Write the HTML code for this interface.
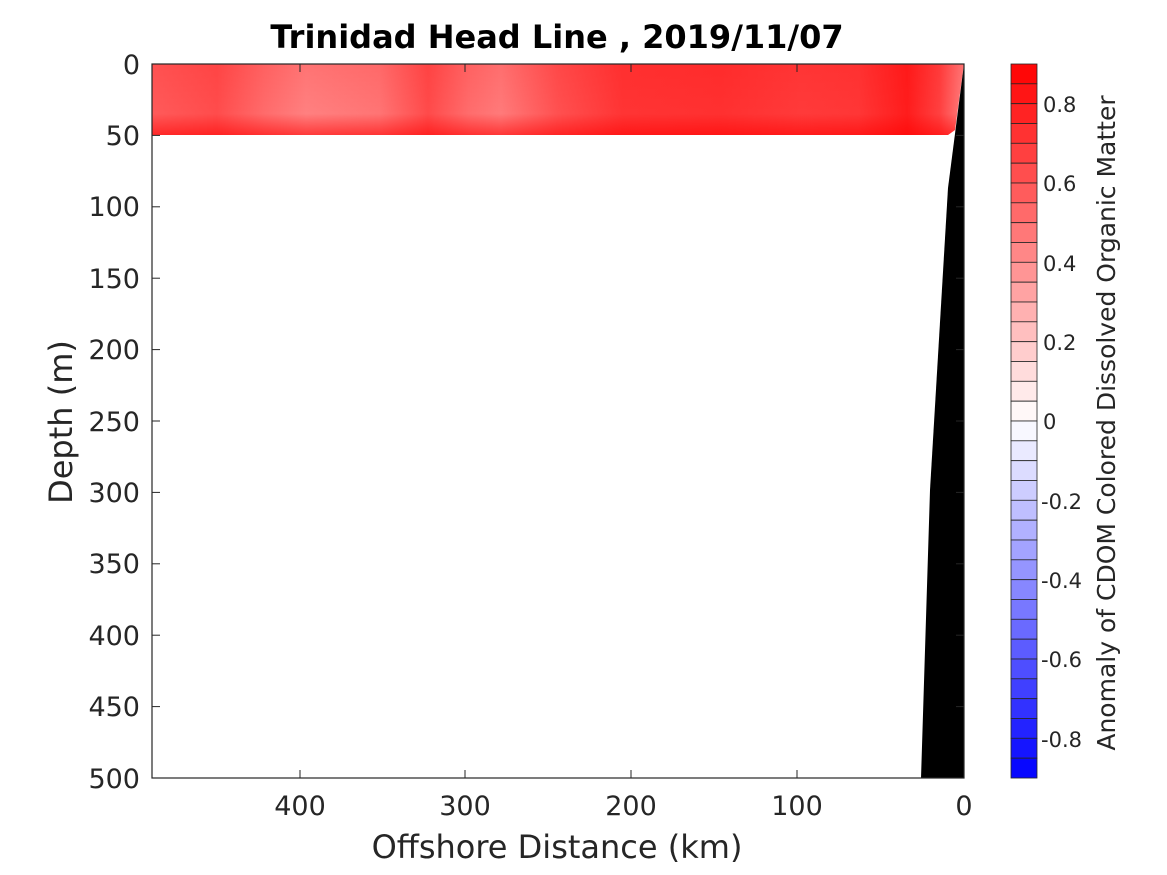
<!DOCTYPE html>
<html><head><meta charset="utf-8"><style>body{margin:0;background:#fff}svg{display:block}text{font-family:"DejaVu Sans","Liberation Sans",sans-serif;fill:#262626}</style></head><body>
<svg width="1167" height="875" viewBox="0 0 1167 875" xmlns="http://www.w3.org/2000/svg">
<defs>
<linearGradient id="h" x1="152" x2="964" y1="0" y2="0" gradientUnits="userSpaceOnUse">
<stop offset="0" stop-color="#ff5a5a"/><stop offset="0.08" stop-color="#ff4c4c"/><stop offset="0.14" stop-color="#ff6c6c"/><stop offset="0.19" stop-color="#ff8080"/><stop offset="0.28" stop-color="#ff7474"/><stop offset="0.34" stop-color="#ff4a4a"/><stop offset="0.39" stop-color="#ff6c6c"/><stop offset="0.43" stop-color="#ff7a7a"/><stop offset="0.5" stop-color="#ff5050"/><stop offset="0.58" stop-color="#ff3434"/><stop offset="0.7" stop-color="#ff3030"/><stop offset="0.8" stop-color="#ff3a3a"/><stop offset="0.87" stop-color="#ff3636"/><stop offset="0.93" stop-color="#ff1c1c"/><stop offset="0.97" stop-color="#ff4040"/><stop offset="1" stop-color="#ff8080"/>
</linearGradient>
<linearGradient id="v" x1="0" x2="0" y1="64" y2="135" gradientUnits="userSpaceOnUse">
<stop offset="0" stop-color="#ff0000" stop-opacity="0.1"/><stop offset="0.7" stop-color="#ff0000" stop-opacity="0"/><stop offset="1" stop-color="#ff0000" stop-opacity="0.55"/>
</linearGradient>
</defs>
<text x="557" y="48" text-anchor="middle" font-size="32" font-weight="bold" style="fill:#000">Trinidad Head Line , 2019/11/07</text>
<polygon points="152,64 964,64 955,130 948,135 152,135" fill="url(#h)"/>
<polygon points="152,64 964,64 955,130 948,135 152,135" fill="url(#v)"/>
<polygon points="964,64 948,188 930,490 921,778 964,778" fill="#000"/>
<rect x="152" y="64" width="812" height="714" fill="none" stroke="#262626" stroke-width="1.2"/>
<g stroke="#262626" stroke-width="1">
<line x1="152" x2="160" y1="135.4" y2="135.4"/><line x1="152" x2="160" y1="206.8" y2="206.8"/><line x1="152" x2="160" y1="278.2" y2="278.2"/><line x1="152" x2="160" y1="349.6" y2="349.6"/><line x1="152" x2="160" y1="421" y2="421"/><line x1="152" x2="160" y1="492.4" y2="492.4"/><line x1="152" x2="160" y1="563.8" y2="563.8"/><line x1="152" x2="160" y1="635.2" y2="635.2"/><line x1="152" x2="160" y1="706.6" y2="706.6"/>
<line x1="964" x2="956" y1="135.4" y2="135.4"/><line x1="964" x2="956" y1="206.8" y2="206.8"/><line x1="964" x2="956" y1="278.2" y2="278.2"/><line x1="964" x2="956" y1="349.6" y2="349.6"/><line x1="964" x2="956" y1="421" y2="421"/><line x1="964" x2="956" y1="492.4" y2="492.4"/><line x1="964" x2="956" y1="563.8" y2="563.8"/><line x1="964" x2="956" y1="635.2" y2="635.2"/><line x1="964" x2="956" y1="706.6" y2="706.6"/>
<line x1="300" x2="300" y1="778" y2="770"/><line x1="465" x2="465" y1="778" y2="770"/><line x1="631" x2="631" y1="778" y2="770"/><line x1="797" x2="797" y1="778" y2="770"/>
<line x1="300" x2="300" y1="64" y2="72"/><line x1="465" x2="465" y1="64" y2="72"/><line x1="631" x2="631" y1="64" y2="72"/><line x1="797" x2="797" y1="64" y2="72"/>
</g>
<g font-size="27" text-anchor="end">
<text x="140" y="74">0</text><text x="140" y="145">50</text><text x="140" y="216">100</text><text x="140" y="288">150</text><text x="140" y="359">200</text><text x="140" y="431">250</text><text x="140" y="502">300</text><text x="140" y="573">350</text><text x="140" y="645">400</text><text x="140" y="716">450</text><text x="140" y="788">500</text>
</g>
<g font-size="27" text-anchor="middle">
<text x="300" y="815">400</text><text x="465" y="815">300</text><text x="631" y="815">200</text><text x="797" y="815">100</text><text x="964" y="815">0</text>
</g>
<text x="557" y="858" text-anchor="middle" font-size="32">Offshore Distance (km)</text>
<text transform="translate(72,422) rotate(-90)" text-anchor="middle" font-size="32">Depth (m)</text>
<g stroke="#262626" stroke-width="0.8">
<rect x="1011" y="64.0" width="26" height="19.83" fill="rgb(255,7,7)"/><rect x="1011" y="83.8" width="26" height="19.83" fill="rgb(255,21,21)"/><rect x="1011" y="103.7" width="26" height="19.83" fill="rgb(255,35,35)"/><rect x="1011" y="123.5" width="26" height="19.83" fill="rgb(255,50,50)"/><rect x="1011" y="143.3" width="26" height="19.83" fill="rgb(255,64,64)"/><rect x="1011" y="163.2" width="26" height="19.83" fill="rgb(255,78,78)"/><rect x="1011" y="183.0" width="26" height="19.83" fill="rgb(255,92,92)"/><rect x="1011" y="202.8" width="26" height="19.83" fill="rgb(255,106,106)"/><rect x="1011" y="222.7" width="26" height="19.83" fill="rgb(255,120,120)"/><rect x="1011" y="242.5" width="26" height="19.83" fill="rgb(255,135,135)"/><rect x="1011" y="262.3" width="26" height="19.83" fill="rgb(255,149,149)"/><rect x="1011" y="282.2" width="26" height="19.83" fill="rgb(255,163,163)"/><rect x="1011" y="302.0" width="26" height="19.83" fill="rgb(255,177,177)"/><rect x="1011" y="321.8" width="26" height="19.83" fill="rgb(255,191,191)"/><rect x="1011" y="341.7" width="26" height="19.83" fill="rgb(255,205,205)"/><rect x="1011" y="361.5" width="26" height="19.83" fill="rgb(255,220,220)"/><rect x="1011" y="381.3" width="26" height="19.83" fill="rgb(255,234,234)"/><rect x="1011" y="401.2" width="26" height="19.83" fill="rgb(255,248,248)"/>
<rect x="1011" y="421.0" width="26" height="19.83" fill="rgb(248,248,255)"/><rect x="1011" y="440.8" width="26" height="19.83" fill="rgb(234,234,255)"/><rect x="1011" y="460.7" width="26" height="19.83" fill="rgb(220,220,255)"/><rect x="1011" y="480.5" width="26" height="19.83" fill="rgb(205,205,255)"/><rect x="1011" y="500.3" width="26" height="19.83" fill="rgb(191,191,255)"/><rect x="1011" y="520.2" width="26" height="19.83" fill="rgb(177,177,255)"/><rect x="1011" y="540.0" width="26" height="19.83" fill="rgb(163,163,255)"/><rect x="1011" y="559.8" width="26" height="19.83" fill="rgb(149,149,255)"/><rect x="1011" y="579.7" width="26" height="19.83" fill="rgb(135,135,255)"/><rect x="1011" y="599.5" width="26" height="19.83" fill="rgb(120,120,255)"/><rect x="1011" y="619.3" width="26" height="19.83" fill="rgb(106,106,255)"/><rect x="1011" y="639.2" width="26" height="19.83" fill="rgb(92,92,255)"/><rect x="1011" y="659.0" width="26" height="19.83" fill="rgb(78,78,255)"/><rect x="1011" y="678.8" width="26" height="19.83" fill="rgb(64,64,255)"/><rect x="1011" y="698.7" width="26" height="19.83" fill="rgb(50,50,255)"/><rect x="1011" y="718.5" width="26" height="19.83" fill="rgb(35,35,255)"/><rect x="1011" y="738.3" width="26" height="19.83" fill="rgb(21,21,255)"/><rect x="1011" y="758.2" width="26" height="19.83" fill="rgb(7,7,255)"/>
</g>
<g font-size="21">
<text x="1043" y="112">0.8</text><text x="1043" y="191">0.6</text><text x="1043" y="271">0.4</text><text x="1043" y="350">0.2</text><text x="1043" y="429">0</text><text x="1041" y="509">-0.2</text><text x="1041" y="588">-0.4</text><text x="1041" y="667">-0.6</text><text x="1041" y="747">-0.8</text>
</g>
<text transform="translate(1115,423) rotate(-90)" text-anchor="middle" font-size="25">Anomaly of CDOM Colored Dissolved Organic Matter</text>
</svg>
</body></html>
